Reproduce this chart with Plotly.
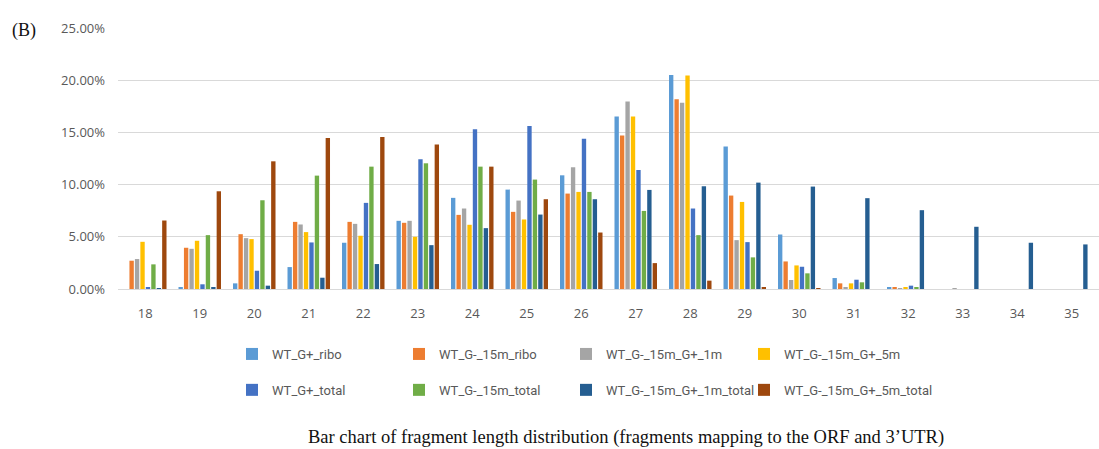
import plotly.graph_objects as go

# Fragment lengths (nt) on the x axis
lengths = [str(n) for n in range(18, 36)]

# Percentage of reads at each fragment length, per library
wt_g_ribo = [0.0, 0.10, 0.54, 2.10, 4.43, 6.53, 8.73, 9.52, 10.89, 16.53, 20.51, 13.66, 5.22, 1.05, 0.10, 0.0, 0.0, 0.0]
wt_g15_ribo = [2.71, 3.95, 5.25, 6.43, 6.43, 6.34, 7.10, 7.39, 9.14, 14.71, 18.18, 8.95, 2.64, 0.54, 0.10, 0.0, 0.0, 0.0]
wt_g15_1m = [2.87, 3.85, 4.87, 6.18, 6.24, 6.53, 7.71, 8.47, 11.66, 17.96, 17.83, 4.68, 0.86, 0.10, 0.05, 0.05, 0.0, 0.0]
wt_g15_5m = [4.52, 4.62, 4.78, 5.45, 5.10, 5.00, 6.15, 6.66, 9.30, 16.53, 20.45, 8.34, 2.26, 0.54, 0.10, 0.0, 0.0, 0.0]
wt_g_total = [0.16, 0.45, 1.75, 4.46, 8.25, 12.42, 15.29, 15.61, 14.39, 11.40, 7.71, 4.49, 2.13, 0.89, 0.32, 0.0, 0.0, 0.0]
wt_g15_total = [2.36, 5.16, 8.50, 10.86, 11.72, 12.04, 11.72, 10.48, 9.30, 7.48, 5.16, 3.03, 1.50, 0.64, 0.19, 0.0, 0.0, 0.0]
wt_g15_1m_total = [0.02, 0.10, 0.32, 1.08, 2.39, 4.20, 5.83, 7.13, 8.60, 9.49, 9.84, 10.19, 9.81, 8.70, 7.55, 5.96, 4.43, 4.27]
wt_g15_5m_total = [6.56, 9.36, 12.23, 14.46, 14.55, 13.85, 11.72, 8.60, 5.41, 2.48, 0.80, 0.19, 0.03, 0.0, 0.0, 0.0, 0.0, 0.0]

series_names = [
    "WT_G+_ribo", "WT_G-_15m_ribo", "WT_G-_15m_G+_1m", "WT_G-_15m_G+_5m",
    "WT_G+_total", "WT_G-_15m_total", "WT_G-_15m_G+_1m_total", "WT_G-_15m_G+_5m_total",
]
series_values = [
    wt_g_ribo, wt_g15_ribo, wt_g15_1m, wt_g15_5m,
    wt_g_total, wt_g15_total, wt_g15_1m_total, wt_g15_5m_total,
]
series_colors = [
    "#5B9BD5", "#ED7D31", "#A5A5A5", "#FFC000",
    "#4472C4", "#70AD47", "#255E91", "#9E480E",
]

W, H = 1099, 449
L, R, T, B = 118, 0, 28, 160
plot_w = W - L - R
plot_h = H - T - B


def px_x(px):
    return (px - L) / plot_w


def px_y(py):
    return (H - B - py) / plot_h


legend_ids = ["legend", "legend2", "legend3", "legend4"]

fig = go.Figure()
for i, (name, vals, col) in enumerate(zip(series_names, series_values, series_colors)):
    fig.add_trace(go.Bar(
        x=lengths, y=vals, name=name,
        marker=dict(color=col, line=dict(width=0)),
        legend=legend_ids[i % 4], legendgroup=name,
    ))

legend_font = dict(family="Roboto, Open Sans, sans-serif", size=13, color="#595959")
# four legend columns, two entries each
column_x = [232, 399, 566, 744]
legends = {}
for lid, cx in zip(legend_ids, column_x):
    legends[lid] = dict(
        orientation="v", x=px_x(cx), y=px_y(339), xanchor="left", yanchor="top",
        itemwidth=30, tracegroupgap=16, font=legend_font,
        bgcolor="rgba(0,0,0,0)", traceorder="grouped",
    )

fig.update_layout(
    width=W, height=H,
    margin=dict(l=L, r=R, t=T, b=B, pad=0),
    paper_bgcolor="white", plot_bgcolor="white",
    barmode="group", bargap=0.2, bargroupgap=0.2,
    font=dict(family="Open Sans, Liberation Sans, sans-serif", size=13, color="#595959"),
    xaxis=dict(
        type="category", range=[-0.5, 17.5],
        showgrid=False, showline=True, linecolor="#d9d9d9", linewidth=1,
        ticks="", ticklabelstandoff=12,
        tickfont=dict(size=13, color="#595959"),
    ),
    yaxis=dict(
        range=[0, 25], dtick=5, tickformat=".2f", ticksuffix="%",
        showgrid=True, gridcolor="#d9d9d9", gridwidth=1,
        zeroline=False, showline=False, ticks="", ticklabelstandoff=12,
        tickfont=dict(size=13, color="#595959"),
    ),
    annotations=[
        dict(text="(B)", x=px_x(10), y=px_y(31), xref="paper", yref="paper",
             xanchor="left", yanchor="middle", showarrow=False,
             font=dict(family="Liberation Serif, Times New Roman, serif", size=18, color="#111111")),
        dict(text="Bar chart of fragment length distribution (fragments mapping to the ORF and 3\u2019UTR)",
             x=px_x(626), y=px_y(437), xref="paper", yref="paper",
             xanchor="center", yanchor="middle", showarrow=False,
             font=dict(family="Liberation Serif, Times New Roman, serif", size=18.5, color="#111111")),
    ],
    **legends,
)

fig.write_html("out.html")
